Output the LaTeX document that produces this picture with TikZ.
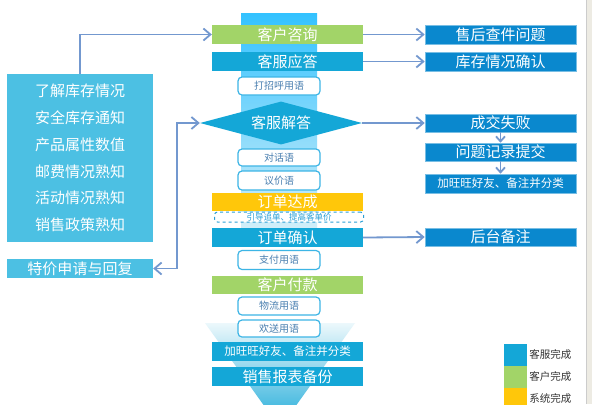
\documentclass[tikz,border=0pt]{standalone}
\usepackage{fontspec}
\setmainfont{Noto Sans CJK SC}
\usetikzlibrary{arrows.meta,shapes.geometric}

\begin{document}
\begin{tikzpicture}[
    x=1bp, y=-1bp,
    bar/.style={
        rectangle, minimum width=151bp, minimum height=19bp, inner sep=0pt,
        text=white, font=\fontsize{15bp}{18bp}\selectfont
    },
    rbox/.style={bar, fill=rblue, draw=rblue!55!white, line width=0.6bp},
    tbox/.style={
        draw=tline, line width=1.2bp, fill=white, rounded corners=4bp,
        minimum width=82bp, minimum height=18bp, inner sep=0pt,
        text=ttext, font=\fontsize{10bp}{12bp}\selectfont
    },
    arr/.style={-{Straight Barb[length=7bp,width=12bp]}, line width=1.8bp, arrcol},
    darr/.style={-{Straight Barb[length=5bp,width=9bp]}, line width=1.8bp, arrcol},
    legbox/.style={minimum width=23bp, minimum height=22bp, inner sep=0pt},
    leglabel/.style={anchor=west, inner sep=0pt, text=black!80, font=\fontsize{10.5bp}{12bp}\selectfont}
]

% Colours
\definecolor{cblue}{HTML}{14A7D7}
\definecolor{rblue}{HTML}{0A88CE}
\definecolor{lblue}{HTML}{4CC0E3}
\definecolor{cgreen}{HTML}{A2D468}
\definecolor{cyellow}{HTML}{FFC70A}
\definecolor{tline}{HTML}{3DB5E5}
\definecolor{ttext}{HTML}{4A7FB0}
\definecolor{dline}{HTML}{2A9FD6}
\definecolor{arrcol}{HTML}{7398CF}
\definecolor{edgegray}{HTML}{EDEBE3}

% Page and background
\useasboundingbox (0,0) rectangle (592,404);
\fill[white] (0,0) rectangle (592,404);
\fill[edgegray] (586,0) rectangle (592,404);
\draw[black!20, line width=0.6bp] (586,0) -- (586,404);

% Light strip behind the centre column and funnel at the bottom
\shade[top color=cyan!70!blue!80, middle color=cblue!10, bottom color=cblue!16] (241,13) rectangle (317,240);
\shade[top color=cblue!8, bottom color=cblue!95] (205,323) -- (355,323) -- (280,428) -- cycle;

% Centre column (top to bottom)
\node[bar, fill=cgreen] (ask) at (287.5,34.5) {客户咨询};
\node[bar, fill=cblue] (answer) at (287.5,61.5) {客服应答};
\node[tbox] (greet) at (279,86) {打招呼用语};
\node[diamond, aspect=3.77, minimum width=162bp, minimum height=43bp, inner sep=0pt,
      fill=cblue, text=white, font=\fontsize{15bp}{18bp}\selectfont] (solve) at (281,123) {客服解答};
\node[tbox, minimum height=17bp] (talk) at (279,157.5) {对话语};
\node[tbox, minimum height=19bp] (bargain) at (279,180.5) {议价语};
\node[bar, fill=cyellow, minimum height=18bp] (deal) at (287.5,201.5) {订单达成};
\node[draw=dline, dashed, line width=1bp, rounded corners=3bp, fill=white,
      minimum width=149bp, minimum height=10bp, inner sep=0pt, text=dline,
      font=\fontsize{8.5bp}{9bp}\selectfont] (upsell) at (289,217) {引导追单、提高客单价};
\node[bar, fill=cblue] (confirm) at (287.5,237.5) {订单确认};
\node[tbox, minimum height=19bp] (payterm) at (279,260) {支付用语};
\node[bar, fill=cgreen, minimum height=18bp] (pay) at (287.5,285) {客户付款};
\node[tbox] (logistic) at (279,306) {物流用语};
\node[tbox, minimum height=17bp] (farewell) at (279,328.5) {欢送用语};
\node[bar, fill=cblue, font=\fontsize{11.5bp}{14bp}\selectfont] (addfriend) at (287.5,351.5) {加旺旺好友、备注并分类};
\node[bar, fill=cblue] (report) at (287.5,376.5) {销售报表备份};

% Right column
\node[rbox] (aftersale) at (500.5,34.5) {售后查件问题};
\node[rbox] (stock) at (500.5,61.5) {库存情况确认};
\node[rbox, minimum height=18bp] (fail) at (500.5,123) {成交失败};
\node[rbox, minimum height=18bp] (record) at (500.5,152) {问题记录提交};
\node[rbox, font=\fontsize{11.5bp}{14bp}\selectfont] (friendnote) at (500.5,183.5) {加旺旺好友、备注并分类};
\node[rbox, minimum height=18bp] (backnote) at (500.5,237) {后台备注};

% Left column
\node[bar, fill=lblue, minimum width=146bp, minimum height=168bp, align=center,
      font=\fontsize{15bp}{26.8bp}\selectfont] (know) at (80,158)
     {了解库存情况\\安全库存通知\\产品属性数值\\邮费情况熟知\\活动情况熟知\\销售政策熟知};
\node[bar, fill=lblue, minimum width=146bp] (special) at (80,268.5) {特价申请与回复};

% Connectors
\coordinate (turn) at (177,268.5);
\draw[arr] (know.north) |- (ask.west);
\draw[arr] (ask.east) -- (aftersale.west);
\draw[arr] (answer.east) -- (stock.west);
\draw[arr] (solve.east) -- (fail.west);
\draw[arr] (confirm.east) -- (backnote.west);
\draw[arr, {Straight Barb[length=7bp,width=12bp]}-{Straight Barb[length=7bp,width=12bp]}] (special.east) -- (turn) |- (solve.west);
\draw[darr] (fail.south) -- (record.north);
\draw[darr] (record.south) -- (friendnote.north);

% Legend
\node[legbox, fill=cblue] (lgservice) at (515.5,354.5) {};
\node[legbox, fill=cgreen] (lgcustomer) at (515.5,376.5) {};
\node[legbox, fill=cyellow] (lgsystem) at (515.5,398.5) {};
\node[leglabel] at ([xshift=2bp]lgservice.east) {客服完成};
\node[leglabel] at ([xshift=2bp]lgcustomer.east) {客户完成};
\node[leglabel] at ([xshift=2bp]lgsystem.east) {系统完成};

\end{tikzpicture}
\end{document}
